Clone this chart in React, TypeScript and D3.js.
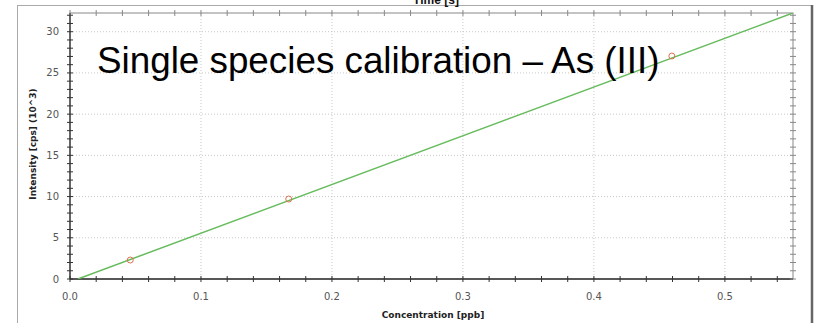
import { useEffect, useRef } from 'react';
import * as d3 from 'd3';

// calibration standards
const stdConc = [0.046, 0.167, 0.4595];
const stdIntensity = [2.3, 9.7, 27.05];

// fitted line end points
const fitConc = [0.006, 0.56];
const fitIntensity = [0, 32.75];

const xMajor = [0.0, 0.1, 0.2, 0.3, 0.4, 0.5];
const xTickLabels = ['0.0', '0.1', '0.2', '0.3', '0.4', '0.5'];
const yMajor = [0, 5, 10, 15, 20, 25, 30];

const W = 815;
const H = 323;

export default function App() {
  const svgRef = useRef<SVGSVGElement>(null);

  useEffect(() => {
    if (!svgRef.current) return;
    const root = d3.select(svgRef.current);
    root.selectAll('*').remove();

    const left = 70, right = 793, top = 13, bottom = 279;

    const x = d3.scaleLinear().domain([0, 0.552]).range([left, right]);
    const y = d3.scaleLinear().domain([0, 32.27]).range([bottom, top]);

    // outer panel
    root.append('rect')
      .attr('x', 17.5).attr('y', 5.5)
      .attr('width', 794).attr('height', 330)
      .attr('fill', '#fff')
      .attr('stroke', '#aaa');
    root.append('line')
      .attr('x1', 812).attr('x2', 812).attr('y1', 5).attr('y2', H)
      .attr('stroke', '#666').attr('stroke-width', 2.5);

    // header text, cut by the panel edge as in the source
    root.append('text')
      .attr('x', 436).attr('y', 4)
      .attr('text-anchor', 'middle')
      .attr('font-family', 'Liberation Sans, Arial, sans-serif')
      .attr('font-weight', 'bold')
      .attr('font-size', '12px')
      .attr('fill', '#111')
      .text('Time [s]');

    root.append('defs').append('clipPath').attr('id', 'plot')
      .append('rect')
      .attr('x', left).attr('y', top)
      .attr('width', right - left).attr('height', bottom - top);

    // grid
    const grid = root.append('g');
    grid.selectAll('line.gx')
      .data(xMajor.slice(1))
      .join('line')
      .attr('x1', d => x(d)).attr('x2', d => x(d))
      .attr('y1', top).attr('y2', bottom)
      .attr('stroke', '#c8c8c8')
      .attr('stroke-dasharray', '1,2');
    grid.selectAll('line.gy')
      .data(yMajor.slice(1))
      .join('line')
      .attr('x1', left).attr('x2', right)
      .attr('y1', d => y(d)).attr('y2', d => y(d))
      .attr('stroke', '#c8c8c8')
      .attr('stroke-dasharray', '1,2');

    // frame
    root.append('rect')
      .attr('x', left).attr('y', top)
      .attr('width', right - left).attr('height', bottom - top)
      .attr('fill', 'none')
      .attr('stroke', '#888');
    root.append('line')
      .attr('x1', left).attr('x2', right).attr('y1', bottom).attr('y2', bottom)
      .attr('stroke', '#333').attr('stroke-width', 1.3);
    root.append('line')
      .attr('x1', left).attr('x2', left).attr('y1', top).attr('y2', bottom)
      .attr('stroke', '#333').attr('stroke-width', 1.3);

    // ticks (crossing the axis lines)
    const xMinor = d3.range(0, 0.552, 0.02);
    const yMinor = d3.range(0, 32.3, 1);
    const ticks = root.append('g');
    [bottom, top].forEach(yy => {
      ticks.append('g').selectAll('line')
        .data(xMinor)
        .join('line')
        .attr('x1', d => x(d)).attr('x2', d => x(d))
        .attr('y1', yy - 3).attr('y2', yy + 3)
        .attr('stroke', yy === top ? '#888' : '#333');
    });
    [left, right].forEach(xx => {
      ticks.append('g').selectAll('line')
        .data(yMinor)
        .join('line')
        .attr('x1', xx - 3).attr('x2', xx + 3)
        .attr('y1', d => y(d)).attr('y2', d => y(d))
        .attr('stroke', xx === right ? '#888' : '#333');
    });

    // tick labels
    root.append('g').selectAll('text')
      .data(xMajor)
      .join('text')
      .attr('x', d => x(d))
      .attr('y', bottom + 21)
      .attr('text-anchor', 'middle')
      .attr('font-family', 'DejaVu Sans, sans-serif')
      .attr('font-size', '10px')
      .attr('fill', '#555')
      .text((d, i) => xTickLabels[i]);
    root.append('g').selectAll('text')
      .data(yMajor)
      .join('text')
      .attr('x', left - 11)
      .attr('y', d => y(d) + 3.5)
      .attr('text-anchor', 'end')
      .attr('font-family', 'DejaVu Sans, sans-serif')
      .attr('font-size', '10px')
      .attr('fill', '#555')
      .text(d => String(d));

    // axis titles
    root.append('text')
      .attr('x', 433).attr('y', 318)
      .attr('text-anchor', 'middle')
      .attr('font-family', 'DejaVu Sans, sans-serif')
      .attr('font-weight', 'bold')
      .attr('font-size', '9px')
      .attr('fill', '#222')
      .text('Concentration [ppb]');
    root.append('text')
      .attr('transform', 'translate(36,144) rotate(-90)')
      .attr('text-anchor', 'middle')
      .attr('font-family', 'DejaVu Sans, sans-serif')
      .attr('font-weight', 'bold')
      .attr('font-size', '9px')
      .attr('fill', '#222')
      .text('Intensity [cps] (10^3)');

    // fit line
    const fit = fitConc.map((c, i) => [c, fitIntensity[i]] as [number, number]);
    root.append('path')
      .datum(fit)
      .attr('clip-path', 'url(#plot)')
      .attr('fill', 'none')
      .attr('stroke', '#66bb5c')
      .attr('stroke-width', 1.5)
      .attr('d', d3.line<[number, number]>().x(d => x(d[0])).y(d => y(d[1])));

    // standards
    root.append('g').selectAll('circle')
      .data(stdConc)
      .join('circle')
      .attr('cx', d => x(d))
      .attr('cy', (d, i) => y(stdIntensity[i]))
      .attr('r', 3)
      .attr('fill', 'none')
      .attr('stroke', '#e07050')
      .attr('stroke-width', 1);

    // overlay title
    root.append('text')
      .attr('x', 97).attr('y', 73)
      .attr('font-family', 'Liberation Sans, Arial, sans-serif')
      .attr('font-size', '36.8px')
      .attr('fill', '#000')
      .text('Single species calibration – As (III)');
  }, []);

  return (
    <div style={{ position: 'fixed', left: 0, top: 0, width: W, height: H, background: '#fff' }}>
      <svg ref={svgRef} width={W} height={H} />
    </div>
  );
}
